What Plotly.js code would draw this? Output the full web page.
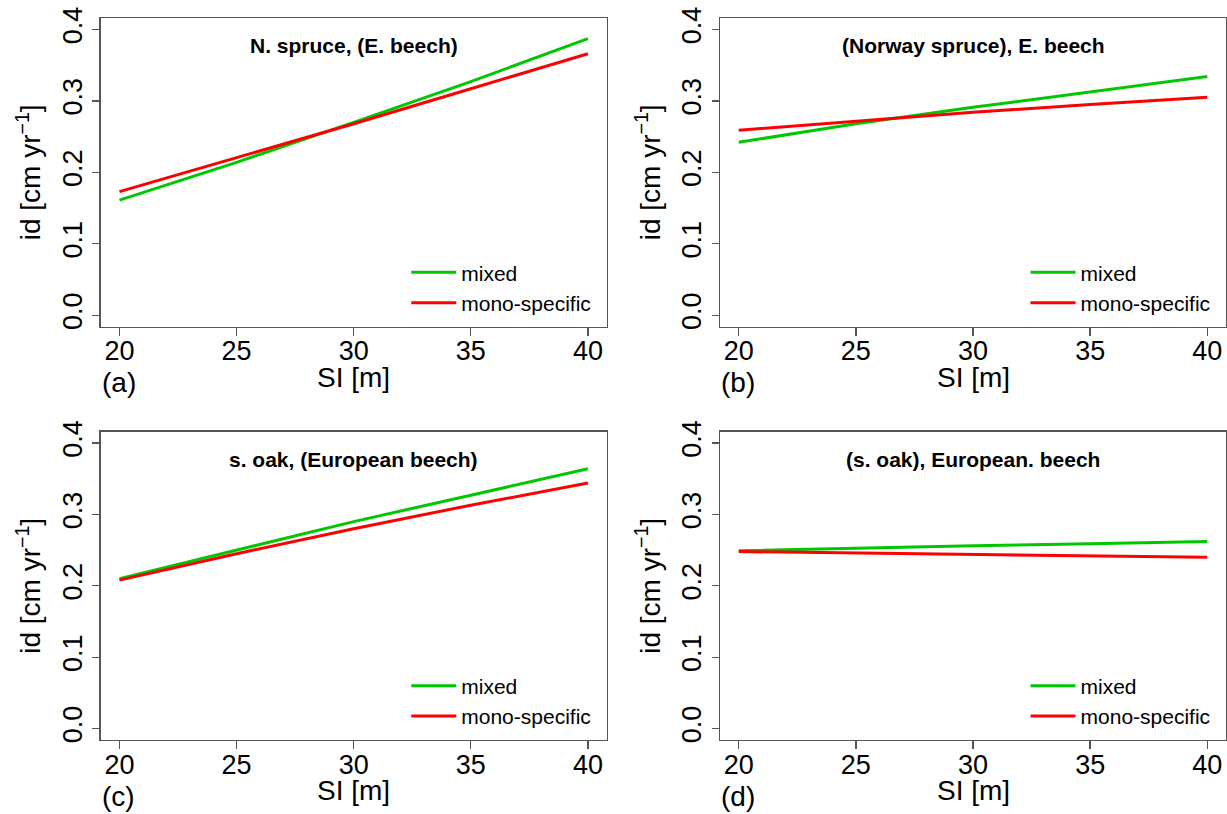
<!DOCTYPE html>
<html>
<head>
<meta charset="utf-8">
<script src="https://cdn.plot.ly/plotly-3.0.1.min.js"></script>
<style>html,body{margin:0;padding:0;background:#fff;}#chart{width:1227px;height:814px;}</style>
</head>
<body>
<div id="chart"></div>
<script>
const SI = [20, 25, 30, 35, 40];
const mixedA = [0.161, 0.214, 0.270, 0.327, 0.387];
const monoA  = [0.173, 0.220, 0.268, 0.317, 0.366];
const mixedB = [0.242, 0.268, 0.291, 0.313, 0.334];
const monoB  = [0.259, 0.272, 0.284, 0.295, 0.305];
const mixedC = [0.210, 0.250, 0.290, 0.327, 0.364];
const monoC  = [0.208, 0.245, 0.280, 0.313, 0.344];
const mixedD = [0.249, 0.253, 0.256, 0.259, 0.262];
const monoD  = [0.248, 0.246, 0.244, 0.242, 0.240];
const panelTitles = ["N. spruce, (E. beech)", "(Norway spruce), E. beech", "s. oak, (European beech)", "(s. oak), European. beech"];
const panelLabels = ["(a)", "(b)", "(c)", "(d)"];
const seriesNames = ["mixed", "mono-specific"];
const xTicks = [20, 25, 30, 35, 40];
const yTicks = [0.0, 0.1, 0.2, 0.3, 0.4];
const xTitle = "SI [m]";
const yTitle = "id [cm yr<sup>−1</sup>]";

const GREEN = "#00C800", RED = "#FF0000";
const FONT = "Liberation Sans, Arial, sans-serif";
const mixedAll = [mixedA, mixedB, mixedC, mixedD];
const monoAll = [monoA, monoB, monoC, monoD];

const xDomains = [[0.0821, 0.4944], [0.5868, 0.9992]];
const yDomains = [[0.5987, 0.9779], [0.0909, 0.4697]];

const traces = [];
const layout = {
  width: 1227, height: 814,
  margin: {l: 0, r: 0, t: 0, b: 0},
  paper_bgcolor: "#fff", plot_bgcolor: "#fff",
  font: {family: FONT, color: "#000"},
  showlegend: true,
  annotations: []
};

for (let i = 0; i < 4; i++) {
  const n = i === 0 ? "" : String(i + 1);
  const col = i % 2, row = Math.floor(i / 2);
  const legName = i === 0 ? "legend" : "legend" + (i + 1);
  traces.push({x: SI, y: mixedAll[i], type: "scatter", mode: "lines", name: seriesNames[0],
    line: {color: GREEN, width: 3}, xaxis: "x" + n, yaxis: "y" + n, legend: legName});
  traces.push({x: SI, y: monoAll[i], type: "scatter", mode: "lines", name: seriesNames[1],
    line: {color: RED, width: 3}, xaxis: "x" + n, yaxis: "y" + n, legend: legName});

  const axCommon = {showline: true, mirror: true, linecolor: "#555", linewidth: 1.3,
    ticks: "outside", tickcolor: "#555", tickwidth: 1.3, showgrid: false, zeroline: false,
    tickfont: {size: 27, family: FONT, color: "#000"}, fixedrange: true};
  layout["xaxis" + n] = Object.assign({}, axCommon, {
    domain: xDomains[col], range: [19.2, 40.8], anchor: "y" + n,
    tickvals: xTicks, ticklen: 8, ticklabelstandoff: -8
  });
  layout["yaxis" + n] = Object.assign({}, axCommon, {
    domain: yDomains[row], range: [-0.016, 0.416], anchor: "x" + n,
    tickvals: yTicks, tickformat: ".1f", ticklen: 7, tickangle: -90,
    title: {text: yTitle, font: {size: 28, family: FONT}, standoff: 8}
  });
  layout[legName] = {
    x: xDomains[col][0] + 0.249, y: yDomains[row][0] + 0.0915, xanchor: "left", yanchor: "top",
    bgcolor: "rgba(0,0,0,0)", borderwidth: 0, itemwidth: 45,
    font: {size: 21, family: FONT, color: "#000"}, tracegroupgap: 0
  };
  layout.annotations.push({xref: "x" + n, yref: "y" + n, x: 30, y: 0.377, text: "<b>" + panelTitles[i] + "</b>",
    showarrow: false, font: {size: 21, family: FONT, color: "#000"}, xanchor: "center", yanchor: "middle"});
  layout.annotations.push({xref: "x" + n, yref: "paper", x: 30, y: yDomains[row][0] - 0.0625,
    text: xTitle, showarrow: false, font: {size: 28, family: FONT, color: "#000"}, xanchor: "center", yanchor: "middle"});
  layout.annotations.push({xref: "paper", yref: "paper", x: xDomains[col][0] - 0.001, y: yDomains[row][0] - 0.069,
    text: panelLabels[i], showarrow: false, font: {size: 28, family: FONT, color: "#000"}, xanchor: "left", yanchor: "middle"});
}

Plotly.newPlot("chart", traces, layout, {displayModeBar: false, staticPlot: true});
</script>
</body>
</html>
